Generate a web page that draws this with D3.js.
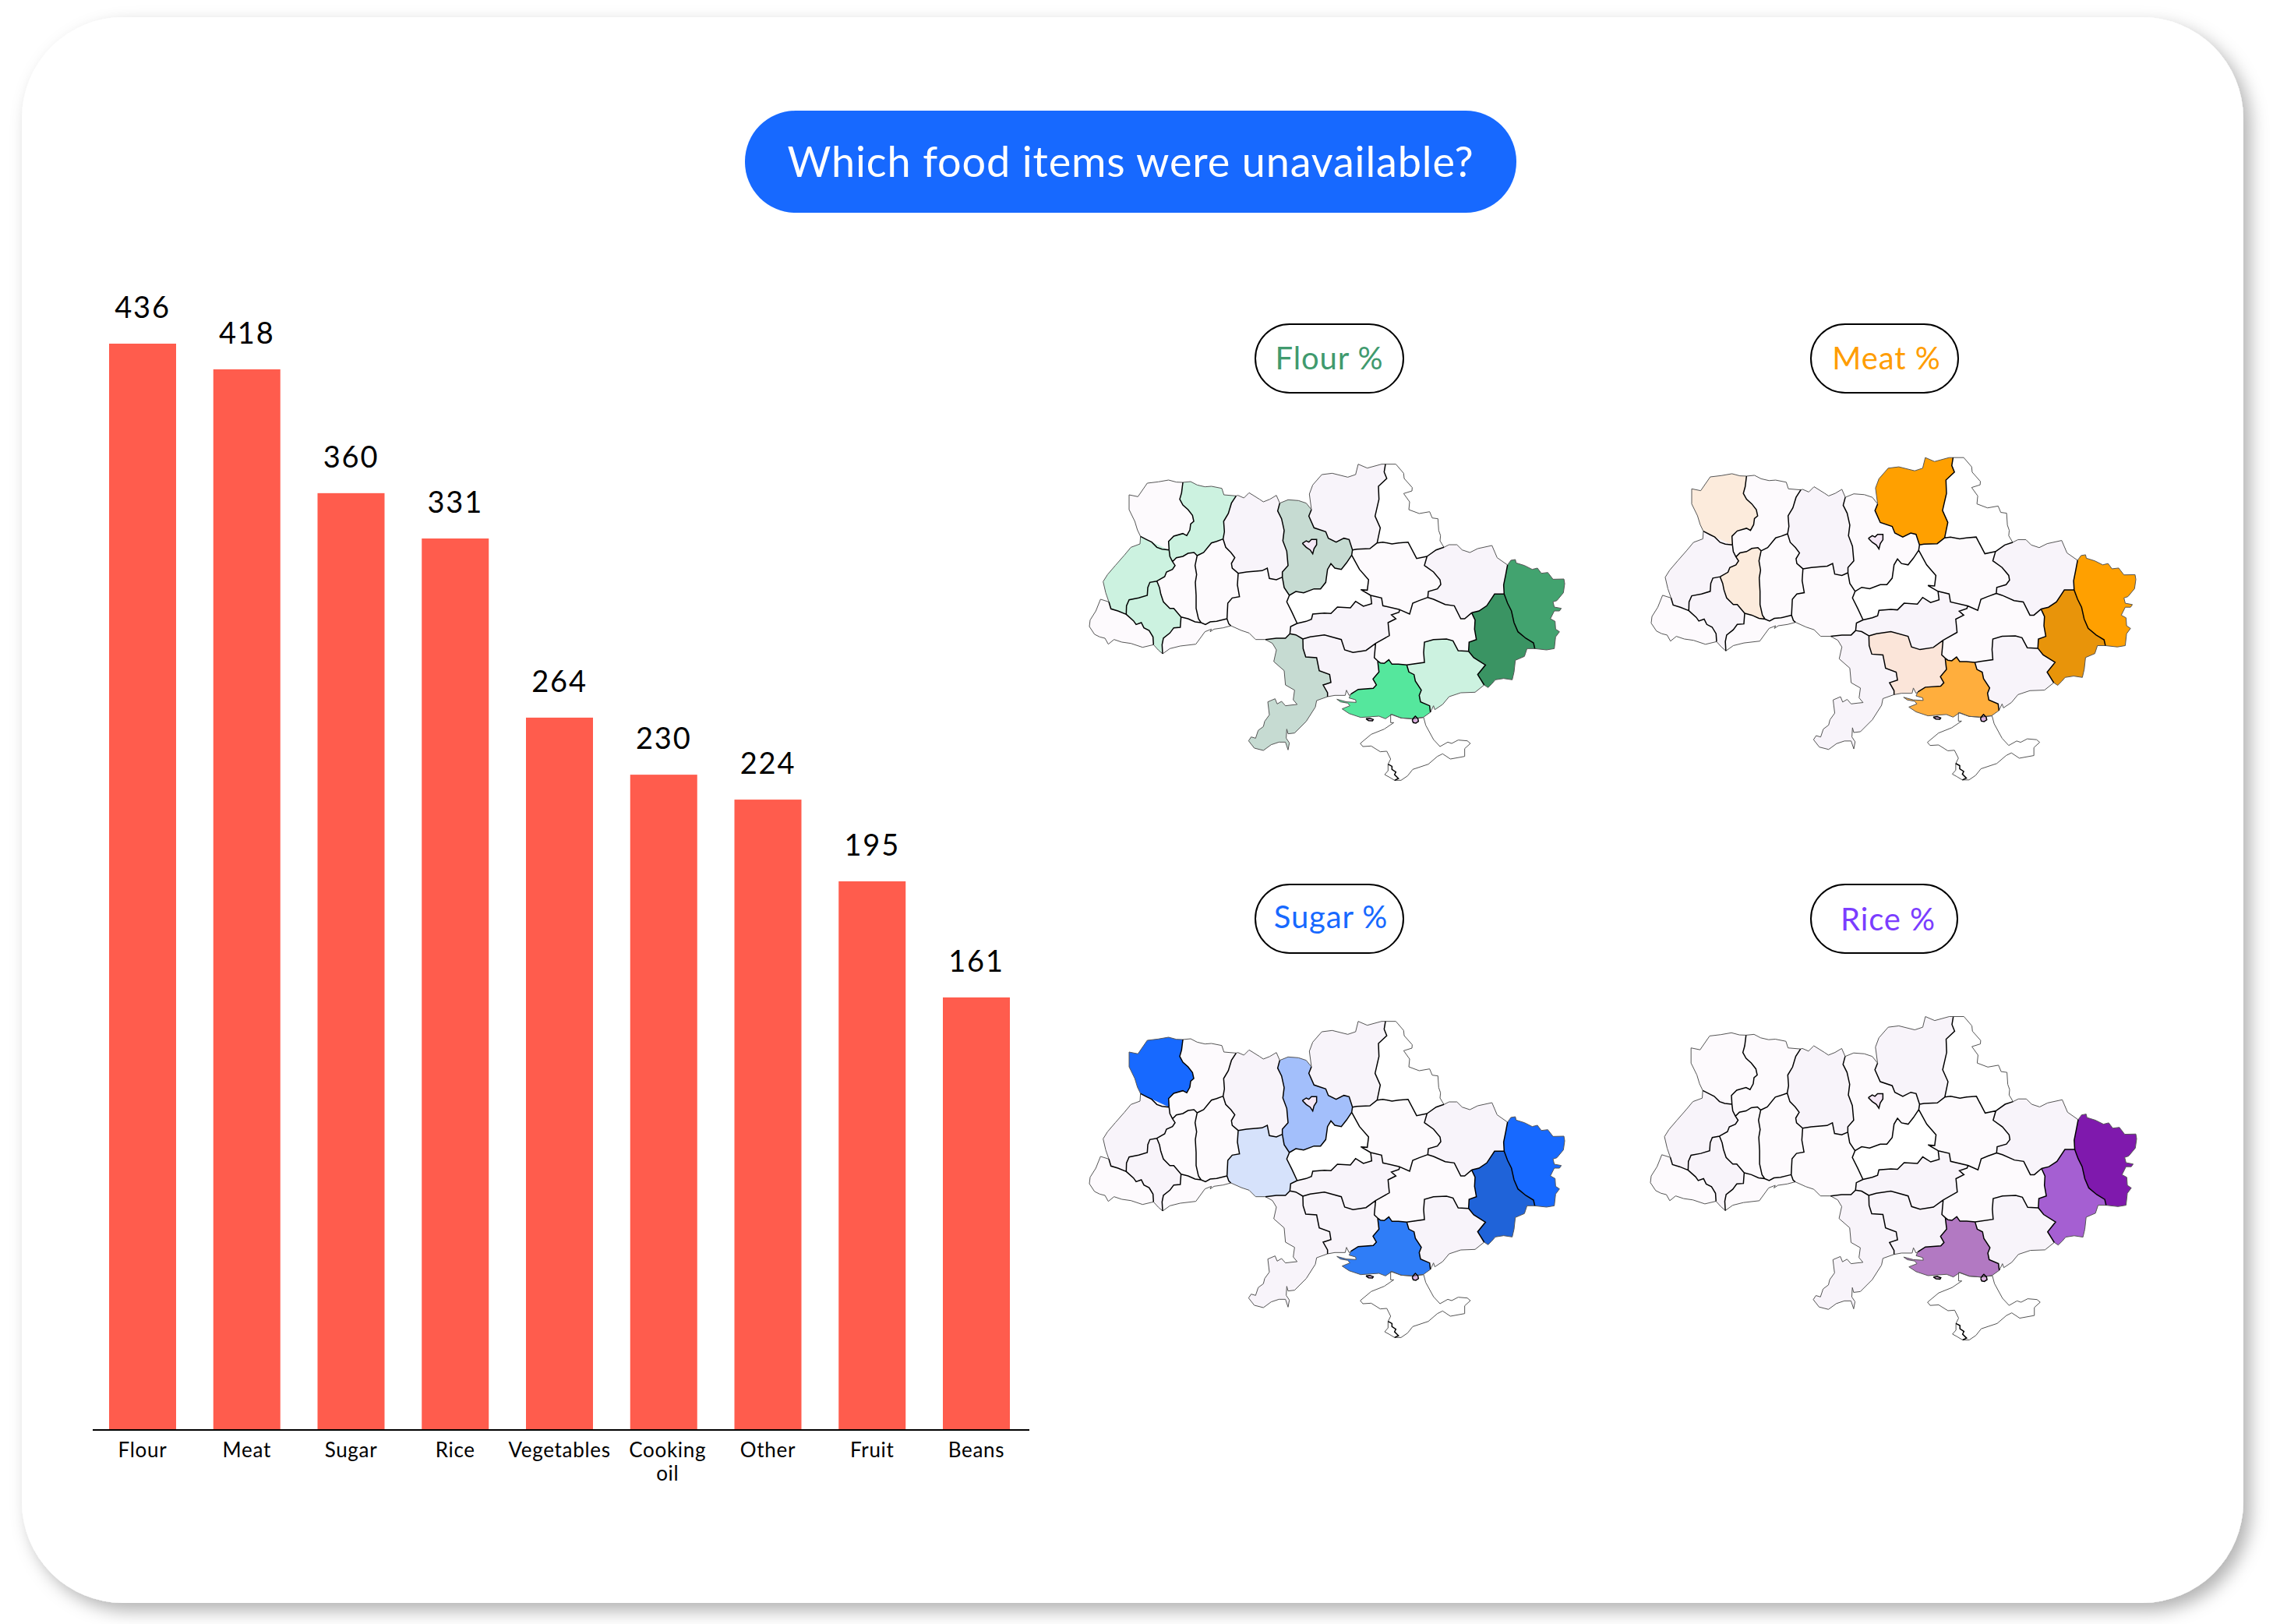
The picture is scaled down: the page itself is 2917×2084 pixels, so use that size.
<!DOCTYPE html>
<html>
<head>
<meta charset="utf-8">
<style>
  html, body { margin: 0; padding: 0; background: #fff; }
  svg { display: block; }
  text { font-family: Lato, "Open Sans", sans-serif; }
</style>
</head>
<body>
<div id="container"></div>

<script src="https://d3js.org/d3.v7.min.js"></script>

<script>
  // bar chart
  const categories = ["Flour", "Meat", "Sugar", "Rice", "Vegetables", "Cooking oil", "Other", "Fruit", "Beans"];
  const printedValues = [436, 418, 360, 331, 264, 230, 224, 195, 161];
  // the bars in the picture are not in proportion to the numbers printed on them,
  // so their drawn length is read off separately, in the units of the tallest bar
  const barLengths = [436, 425.7, 376, 357.8, 285.9, 263, 253, 220.2, 173.6];

  const title = "Which food items were unavailable?";

  // map panels
  const panelTitles = ["Flour %", "Meat %", "Sugar %", "Rice %"];

  const regionNames = ["Volyn", "Rivne", "Zhytomyr", "Kyiv oblast", "Kyiv city", "Chernihiv", "Sumy", "Lviv",
    "Ternopil", "Khmelnytskyi", "Vinnytsia", "Zakarpattia", "Ivano-Frankivsk", "Chernivtsi", "Cherkasy", "Poltava",
    "Kharkiv", "Luhansk", "Donetsk", "Dnipropetrovsk", "Kirovohrad", "Mykolaiv", "Odesa", "Kherson", "Zaporizhzhia",
    "Crimea", "Sevastopol", "Dzharylhach", "Syvash"];

  // shade class of every region, same order as regionNames
  const flourShades = [1, 3, 2, 4, 8, 2, 0, 3, 1, 1, 1, 1, 3, 1, 0, 1, 2, 6, 7, 1, 2, 2, 4, 5, 3, 0, 0, 9, 9];
  const meatShades  = [3, 1, 2, 1, 8, 6, 0, 2, 3, 1, 1, 1, 2, 1, 0, 1, 2, 6, 7, 1, 2, 4, 2, 5, 2, 0, 0, 9, 9];
  const sugarShades = [6, 1, 2, 4, 8, 2, 0, 2, 1, 1, 3, 1, 2, 1, 0, 1, 2, 6, 7, 1, 2, 2, 2, 5, 2, 0, 0, 9, 9];
  const riceShades  = [1, 1, 2, 1, 8, 2, 0, 2, 1, 1, 1, 1, 2, 1, 0, 1, 2, 7, 6, 1, 2, 2, 2, 5, 2, 0, 0, 9, 9];

  // shared borders, in the planar units of the traced map
  const arcs = {
    volynW: [[222,293],[210,268],[200,235],[178,190],[178,133],[212,140],[248,88],[290,83],[330,76],[360,84],[385,85]],
    volynRivne: [[385,85],[380,125],[373,150],[385,172],[405,190],[422,212],[427,235],[415,245],[412,268],[400,290],[385,282],[350,292],[330,312],[332,345]],
    volynLviv: [[332,345],[305,342],[285,335],[265,315],[245,305],[222,293]],
    rivneN: [[385,85],[415,82],[440,95],[470,102],[495,100],[535,108],[543,133],[590,137]],
    rivneZhyt: [[590,137],[572,165],[560,205],[542,235],[545,275],[540,303]],
    rivneKhmel: [[540,303],[515,312],[495,318],[465,355],[440,367]],
    rivneTern: [[440,367],[428,355],[405,358],[385,370],[360,375],[345,390]],
    rivneLviv: [[345,390],[335,370],[332,345]],
    lvivW: [[222,293],[220,322],[185,335],[160,365],[125,405],[95,440],[78,467],[88,510],[100,545]],
    lvivZak: [[100,545],[108,572],[135,580],[167,593]],
    lvivIF: [[167,593],[168,560],[178,537],[215,530],[248,520],[250,490],[258,470],[285,465]],
    lvivTern: [[285,465],[315,448],[322,430],[345,420],[355,405],[345,390]],
    ifTern: [[285,465],[295,490],[300,515],[310,545],[335,570],[350,570],[378,603]],
    ifChern: [[378,603],[375,643],[350,645],[335,665],[310,685],[305,710],[307,745]],
    ifOut: [[272,710],[290,730],[307,745]],
    ifZak: [[167,593],[195,618],[205,632],[225,625],[235,645],[255,655],[270,680],[272,710]],
    zakOut: [[100,545],[68,535],[50,580],[28,615],[25,640],[45,670],[65,680],[85,685],[98,708],[120,690],[150,700],[185,705],[230,720],[272,710]],
    ternKhmel: [[440,367],[432,405],[438,440],[433,470],[436,520],[436,570],[445,610],[455,625]],
    chernTern: [[378,603],[405,610],[432,622],[455,625]],
    chernKhmel: [[455,625],[472,632],[490,622],[515,620],[555,610]],
    chernVin: [[555,610],[562,630],[570,637]],
    chernOut: [[570,637],[540,645],[505,650],[490,660],[495,650],[470,660],[435,708],[375,715],[335,725],[307,745]],
    khmelVin: [[555,610],[558,550],[575,530],[603,525],[595,480],[598,435]],
    khmelZhyt: [[598,435],[575,415],[572,397],[585,375],[570,355],[550,335],[540,303]],
    zhytVin: [[598,435],[630,430],[690,425],[710,415],[718,455],[745,460],[768,450]],
    zhytKyiv: [[768,450],[768,430],[790,405],[785,350],[770,310],[775,270],[765,225],[750,195],[758,165]],
    zhytOut: [[758,165],[745,135],[720,150],[695,160],[680,150],[640,125],[620,145],[597,135],[590,137]],
    vinKyiv: [[768,450],[775,490],[795,520]],
    vinCherk: [[795,520],[785,545],[805,585],[825,628]],
    vinKirov: [[825,628],[800,640],[797,668]],
    vinOdesa: [[797,668],[780,685],[745,685],[703,690]],
    vinOut: [[703,690],[665,690],[640,665],[610,655],[570,637]],
    kyivN: [[758,165],[790,152],[830,155],[860,165],[880,190]],
    kyivChern: [[880,190],[870,215],[890,260],[935,275],[945,300],[975,315],[1005,300],[1025,305],[1038,345]],
    kyivPolt: [[1038,345],[1035,365]],
    kyivCherk: [[795,520],[820,505],[850,510],[890,495],[915,495],[935,470],[942,420],[955,398],[970,415],[995,420],[1015,395],[1035,365]],
    chernihivOut: [[880,190],[872,130],[885,95],[920,55],[960,50],[1020,65],[1050,55],[1060,15],[1095,30],[1150,15],[1165,15]],
    chernihivSumy: [[1165,15],[1160,45],[1170,70],[1138,100],[1140,150],[1125,215],[1145,260],[1133,318]],
    chernihivPolt: [[1038,345],[1055,342],[1105,340],[1133,318]],
    sumyOut: [[1165,15],[1205,15],[1235,50],[1237,70],[1268,105],[1267,118],[1235,128],[1258,160],[1255,190],[1295,205],[1335,198],[1345,222],[1367,225],[1370,270],[1377,290],[1375,310],[1390,335]],
    sumyKhar: [[1390,335],[1360,345],[1325,370]],
    sumyPolt: [[1325,370],[1285,378],[1252,315],[1215,318],[1190,322],[1155,315],[1133,318]],
    poltKhar: [[1325,370],[1315,405],[1350,430],[1375,460],[1378,478],[1365,495],[1330,505],[1328,528]],
    poltDnipro: [[1328,528],[1295,540],[1270,550],[1258,592],[1220,575]],
    kirovPolt: [[1108,520],[1150,530],[1155,560],[1220,575]],
    cherkPolt: [[1035,365],[1065,420],[1100,460],[1095,500],[1070,498],[1108,520]],
    kirovCherk: [[825,628],[860,620],[880,612],[885,592],[930,588],[955,590],[980,565],[1030,568],[1050,543],[1080,562],[1112,552],[1108,520]],
    kirovOdesa: [[797,668],[820,672],[847,688]],
    kirovMyk: [[847,688],[875,680],[930,672],[995,690],[1008,730],[1040,740],[1090,732],[1127,705]],
    kirovDnipro: [[1127,705],[1180,675],[1175,625],[1205,610],[1188,595],[1217,585],[1220,575]],
    kharOut: [[1390,335],[1410,325],[1440,325],[1460,345],[1490,355],[1520,340],[1575,328],[1595,375],[1635,403]],
    kharLuh: [[1635,403],[1628,440],[1620,480],[1622,515]],
    kharDon: [[1622,515],[1585,515],[1555,560],[1525,580],[1497,587]],
    kharDnipro: [[1497,587],[1470,610],[1455,610],[1430,560],[1395,555],[1350,535],[1328,528]],
    luhOut: [[1635,403],[1648,385],[1665,382],[1668,395],[1700,405],[1730,420],[1750,415],[1765,435],[1790,432],[1810,458],[1852,457],[1855,475],[1850,510],[1825,540],[1810,545],[1815,565],[1842,570],[1835,580],[1815,580],[1800,610],[1818,620],[1820,650],[1835,660],[1820,680],[1815,725],[1785,730],[1740,725]],
    luhDon: [[1622,515],[1635,550],[1650,580],[1660,625],[1675,660],[1705,685],[1735,703],[1740,725]],
    donOut: [[1740,725],[1710,725],[1700,755],[1665,770],[1660,815],[1653,845],[1620,840],[1588,845],[1575,860],[1560,875],[1545,865]],
    donZapo: [[1485,735],[1505,760],[1550,788],[1520,825],[1545,865]],
    dnDon: [[1497,587],[1510,615],[1508,650],[1515,690],[1487,700],[1485,735]],
    dnipZapo: [[1247,788],[1315,778],[1312,740],[1315,700],[1350,690],[1400,688],[1425,695],[1445,733],[1485,735]],
    dnipKher: [[1135,772],[1145,780],[1160,782],[1178,768],[1190,785],[1215,785],[1247,788]],
    dnipMyk: [[1135,772],[1122,760],[1127,705]],
    mykKher: [[1135,772],[1140,815],[1117,842],[1130,865],[1118,878],[1060,882],[1032,900]],
    mykCoast: [[942,910],[970,905],[1010,905],[1015,885],[1025,905],[1032,900]],
    mykOdesa: [[847,688],[848,725],[858,757],[900,760],[910,810],[950,825],[955,855],[925,865],[942,895],[942,910]],
    kherZapo: [[1247,788],[1255,815],[1275,825],[1280,850],[1303,885],[1295,905],[1300,930],[1335,945],[1338,970]],
    kherCoast: [[1032,900],[1025,915],[1050,922],[1052,932],[1015,930],[978,920],[992,930],[1020,935],[1028,945],[998,957],[1025,975],[1070,990],[1140,985],[1165,995],[1190,978],[1225,992],[1265,995],[1310,990],[1338,970]],
    zapoCoast: [[1545,865],[1510,893],[1455,895],[1410,910],[1385,940],[1355,960],[1350,945],[1338,970]],
    odesaCoast: [[942,910],[900,925],[895,950],[860,1005],[815,1050],[790,1053],[785,1035],[783,1070],[795,1088],[790,1115],[780,1085],[755,1085],[725,1095],[695,1117],[660,1108],[638,1080],[648,1065],[665,1070],[675,1040],[695,1025],[700,1005],[718,980],[712,930],[740,918],[748,938],[765,928],[780,945],[805,942],[825,940],[810,922],[815,885],[780,865],[775,810],[735,775],[745,730],[730,705],[703,690]],
    crimeaW: [[1200,1232],[1225,1232],[1250,1215],[1270,1190],[1330,1170],[1365,1140],[1385,1130],[1415,1150],[1470,1140],[1470,1110],[1492,1090],[1480,1080],[1445,1077],[1420,1090],[1405,1085],[1375,1102],[1350,1075],[1320,1020],[1312,990],[1265,995],[1225,992],[1185,978],[1185,1010],[1197,1010],[1160,1035],[1110,1055],[1068,1090],[1078,1102],[1110,1100],[1145,1122],[1170,1120],[1185,1150],[1175,1170]],
    sevCrimea: [[1175,1170],[1190,1178],[1190,1190],[1205,1200],[1200,1210],[1215,1225],[1200,1232]],
    sevOut: [[1200,1232],[1180,1220],[1162,1210],[1175,1195],[1175,1170]],
    kyivCityOut: [[845,320],[860,310],[870,315],[880,305],[900,305],[900,325],[890,340],[885,360],[875,345],[860,335],[845,320]],
    dzharylhachOut: [[1090,995],[1105,993],[1118,998],[1115,1003],[1100,1002],[1090,995]],
    syvashOut: [[1268,1000],[1275,990],[1280,985],[1290,995],[1292,1005],[1282,1012],[1272,1010],[1268,1000]],
  };

  // region outlines as arc names, a leading minus walks the arc backwards
  const regionRings = [
    ["volynW", "volynRivne", "volynLviv"],
    ["rivneN", "rivneZhyt", "rivneKhmel", "rivneTern", "rivneLviv", "-volynRivne"],
    ["rivneZhyt", "-khmelZhyt", "zhytVin", "zhytKyiv", "zhytOut"],
    ["kyivN", "kyivChern", "kyivPolt", "-kyivCherk", "-vinKyiv", "zhytKyiv"],
    ["kyivCityOut"],
    ["chernihivOut", "chernihivSumy", "-chernihivPolt", "-kyivChern"],
    ["sumyOut", "sumyKhar", "sumyPolt", "-chernihivSumy"],
    ["lvivW", "lvivZak", "lvivIF", "lvivTern", "rivneLviv", "-volynLviv"],
    ["ternKhmel", "-chernTern", "-ifTern", "lvivTern", "-rivneTern"],
    ["rivneKhmel", "ternKhmel", "chernKhmel", "khmelVin", "khmelZhyt"],
    ["khmelVin", "zhytVin", "vinKyiv", "vinCherk", "vinKirov", "vinOdesa", "vinOut", "-chernVin"],
    ["zakOut", "-ifZak", "-lvivZak"],
    ["ifZak", "ifOut", "-ifChern", "-ifTern", "-lvivIF"],
    ["chernTern", "chernKhmel", "chernVin", "chernOut", "-ifChern"],
    ["kyivCherk", "cherkPolt", "-kirovCherk", "-vinCherk"],
    ["-sumyPolt", "poltKhar", "poltDnipro", "-kirovPolt", "-cherkPolt", "-kyivPolt", "chernihivPolt"],
    ["kharOut", "kharLuh", "kharDon", "kharDnipro", "-poltKhar", "-sumyKhar"],
    ["luhOut", "-luhDon", "-kharLuh"],
    ["luhDon", "donOut", "-donZapo", "-dnDon", "-kharDon"],
    ["-poltDnipro", "-kharDnipro", "dnDon", "-dnipZapo", "-dnipKher", "dnipMyk", "kirovDnipro"],
    ["kirovCherk", "kirovPolt", "-kirovDnipro", "-kirovMyk", "-kirovOdesa", "-vinKirov"],
    ["kirovMyk", "-dnipMyk", "mykKher", "-mykCoast", "-mykOdesa"],
    ["-vinOdesa", "kirovOdesa", "mykOdesa", "odesaCoast"],
    ["dnipKher", "kherZapo", "-kherCoast", "-mykKher"],
    ["dnipZapo", "donZapo", "zapoCoast", "-kherZapo"],
    ["crimeaW", "sevCrimea"],
    ["sevCrimea", "sevOut"],
    ["dzharylhachOut"],
    ["syvashOut"],
  ];

  const W = 2917, H = 2084;

  const svg = d3.select("#container").append("svg")
    .attr("width", W)
    .attr("height", H)
    .attr("viewBox", `0 0 ${W} ${H}`);

  // card with the soft shadow to the lower right
  const shadow = svg.append("defs").append("filter")
    .attr("id", "cardShadow")
    .attr("x", "-3%").attr("y", "-3%")
    .attr("width", "106%").attr("height", "106%");
  shadow.append("feDropShadow")
    .attr("dx", 9).attr("dy", 10)
    .attr("stdDeviation", 11)
    .attr("flood-color", "#000")
    .attr("flood-opacity", 0.3);

  svg.append("rect")
    .attr("x", 28).attr("y", 22)
    .attr("width", 2851).attr("height", 2035)
    .attr("rx", 130)
    .attr("fill", "#fff")
    .attr("filter", "url(#cardShadow)");

  // title pill
  svg.append("rect")
    .attr("x", 956).attr("y", 142)
    .attr("width", 990).attr("height", 131)
    .attr("rx", 65)
    .attr("fill", "#1769ff");

  svg.append("text")
    .attr("x", 1451).attr("y", 227)
    .attr("text-anchor", "middle")
    .attr("font-size", 54)
    .attr("letter-spacing", 0.85)
    .attr("fill", "#fff")
    .text(title);

  // ---- bars ----
  const x = d3.scaleBand()
    .domain(categories)
    .range([140, 1296])
    .paddingInner(0.357);

  const y = d3.scaleLinear()
    .domain([0, d3.max(barLengths)])
    .range([1835, 441]);

  svg.append("g")
    .selectAll("rect")
    .data(categories)
    .join("rect")
    .attr("x", d => x(d))
    .attr("y", (d, i) => y(barLengths[i]))
    .attr("width", x.bandwidth())
    .attr("height", (d, i) => y(0) - y(barLengths[i]))
    .attr("fill", "#ff5c4d");

  svg.append("g")
    .selectAll("text")
    .data(categories)
    .join("text")
    .attr("x", d => x(d) + x.bandwidth() / 2)
    .attr("y", (d, i) => y(barLengths[i]) - 33)
    .attr("text-anchor", "middle")
    .attr("font-size", 38)
    .attr("letter-spacing", 1.8)
    .attr("fill", "#000")
    .text((d, i) => printedValues[i]);

  const xAxis = svg.append("g")
    .attr("transform", `translate(0, ${y(0)})`)
    .call(d3.axisBottom(x).tickSize(0));

  xAxis.select(".domain").remove();

  xAxis.append("line")
    .attr("x1", 119).attr("x2", 1321)
    .attr("stroke", "#000")
    .attr("stroke-width", 2);

  xAxis.selectAll(".tick text")
    .attr("font-family", "Lato, 'Open Sans', sans-serif")
    .attr("font-size", 26)
    .attr("letter-spacing", 0.7)
    .attr("fill", "#000")
    .attr("dy", null)
    .attr("y", 35)
    .each(function (d) {
      // long names go on two lines, set a little to the right of the band
      const words = d.split(" ");
      const shift = words.length > 1 ? 5 : 0;
      const label = d3.select(this).text(null);
      words.forEach((word, i) => {
        label.append("tspan").attr("x", shift).attr("dy", i ? 30 : 0).text(word);
      });
    });

  // ---- maps ----
  const ringCoords = (ring) => {
    const coords = [];
    ring.forEach(name => {
      const back = name[0] === "-";
      const arc = arcs[back ? name.slice(1) : name];
      const pts = back ? arc.slice().reverse() : arc;
      coords.push(...(coords.length ? pts.slice(1) : pts));
    });
    return coords;
  };

  const regions = {
    type: "FeatureCollection",
    features: regionRings.map((ring, i) => ({
      type: "Feature",
      properties: { name: regionNames[i] },
      geometry: { type: "Polygon", coordinates: [ringCoords(ring)] },
    })),
  };

  // a border used by two regions is drawn dark, a border on the outside stays thin
  const arcUse = {};
  regionRings.flat().forEach(name => {
    const key = name.replace("-", "");
    arcUse[key] = (arcUse[key] || 0) + 1;
  });
  const arcGeometry = (keep) => ({
    type: "MultiLineString",
    coordinates: Object.keys(arcs).filter(keep).map(k => arcs[k]),
  });
  const smallRegions = ["kyivCityOut", "dzharylhachOut", "syvashOut"];
  const innerBorders = arcGeometry(k => arcUse[k] > 1 || smallRegions.includes(k));
  const outerBorders = arcGeometry(k => arcUse[k] === 1 && !smallRegions.includes(k));

  const commonShades = { 0: "#ffffff", 1: "#fdfafd", 2: "#f8f4fa", 8: "#f5e8f6", 9: "#d9aede" };
  const shadeColor = (ramp) => d3.scaleOrdinal()
    .domain([0, 1, 2, 3, 4, 5, 6, 7, 8, 9])
    .range([commonShades[0], commonShades[1], commonShades[2], ...ramp, commonShades[8], commonShades[9]]);

  const panels = [
    { title: panelTitles[0], shades: flourShades, labelColor: "#409a6e", labelX: 1706, labelY: 474, pill: [1611, 416, 190, 88],
      box: [[1398, 595], [2008, 1002]], color: shadeColor(["#ccf2e0", "#c6dbd2", "#55e79d", "#42a36f", "#3a9463"]) },
    { title: panelTitles[1], shades: meatShades, labelColor: "#ff9d00", labelX: 2421, labelY: 474, pill: [2324, 416, 189, 88],
      box: [[2119, 586], [2741, 1002]], color: shadeColor(["#fcebdc", "#fbe5d9", "#ffae3d", "#ffa000", "#e8940a"]) },
    { title: panelTitles[2], shades: sugarShades, labelColor: "#1769ff", labelX: 1708, labelY: 1191, pill: [1611, 1135, 190, 88],
      box: [[1398, 1310], [2008, 1717]], color: shadeColor(["#d6e2fb", "#a3bffb", "#2f7df7", "#1769ff", "#1f63d9"]) },
    { title: panelTitles[3], shades: riceShades, labelColor: "#7b3dff", labelX: 2423, labelY: 1194, pill: [2324, 1135, 188, 88],
      box: [[2118, 1304], [2742, 1720]], color: shadeColor(["#f3eaf8", "#eadcf3", "#b279c2", "#a55fd2", "#7f19ad"]) },
  ];

  panels.forEach(panel => {
    const [px, py, pw, ph] = panel.pill;

    svg.append("rect")
      .attr("x", px).attr("y", py)
      .attr("width", pw).attr("height", ph)
      .attr("rx", ph / 2)
      .attr("fill", "#fff")
      .attr("stroke", "#000")
      .attr("stroke-width", 2);

    svg.append("text")
      .attr("x", panel.labelX).attr("y", panel.labelY)
      .attr("text-anchor", "middle")
      .attr("font-size", 40)
      .attr("letter-spacing", 0.9)
      .attr("fill", panel.labelColor)
      .text(panel.title);

    const projection = d3.geoIdentity().fitExtent(panel.box, regions);
    const path = d3.geoPath(projection);
    const map = svg.append("g");

    map.selectAll("path")
      .data(regions.features)
      .join("path")
      .attr("d", path)
      .attr("fill", (d, i) => panel.color(panel.shades[i]));

    map.append("path")
      .attr("d", path(outerBorders))
      .attr("fill", "none")
      .attr("stroke", "#555")
      .attr("stroke-width", 1);

    map.append("path")
      .attr("d", path(innerBorders))
      .attr("fill", "none")
      .attr("stroke", "#000")
      .attr("stroke-width", 1.5);
  });
</script>
</body>
</html>
